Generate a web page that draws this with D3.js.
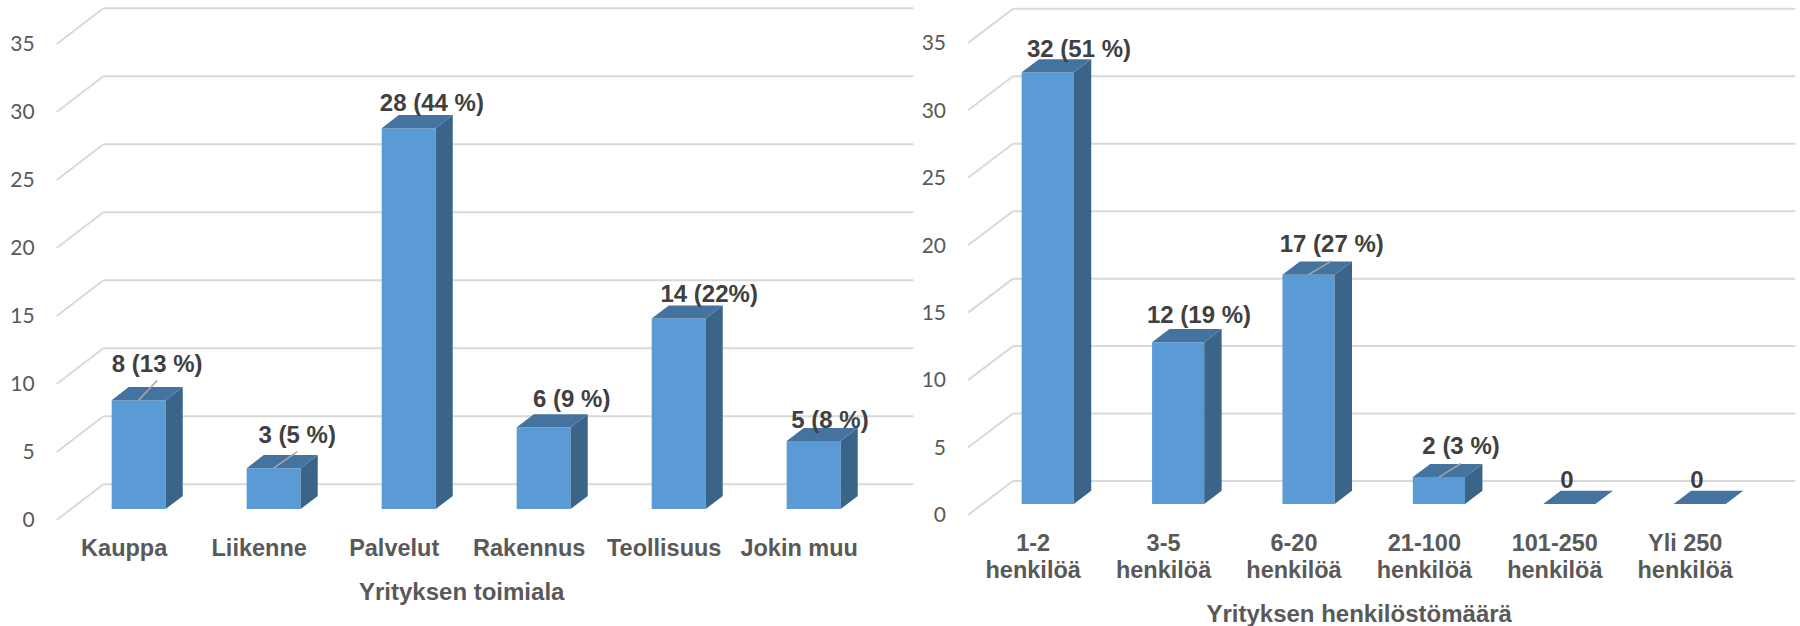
<!DOCTYPE html>
<html>
<head>
<meta charset="utf-8">
<script src="https://cdn.jsdelivr.net/npm/d3@7"></script>
<style>
  html, body { margin: 0; padding: 0; background: #ffffff; }
  svg { display: block; }
</style>
</head>
<body>
<svg id="chart" width="1800" height="626"></svg>
<script>
// ---------------- data ----------------
const yTicks = [0, 5, 10, 15, 20, 25, 30, 35];

const leftCategories = ["Kauppa", "Liikenne", "Palvelut", "Rakennus", "Teollisuus", "Jokin muu"];
const leftValues = [8, 3, 28, 6, 14, 5];
const leftLabels = ["8 (13 %)", "3 (5 %)", "28 (44 %)", "6 (9 %)", "14 (22%)", "5 (8 %)"];
const leftTitle = "Yrityksen toimiala";

const rightCategories = [["1-2", "henkilöä"], ["3-5", "henkilöä"], ["6-20", "henkilöä"],
                         ["21-100", "henkilöä"], ["101-250", "henkilöä"], ["Yli 250", "henkilöä"]];
const rightValues = [32, 12, 17, 2, 0, 0];
const rightLabels = ["32 (51 %)", "12 (19 %)", "17 (27 %)", "2 (3 %)", "0", "0"];
const rightTitle = "Yrityksen henkilöstömäärä";

// ---------------- layout (label placement as moved in the original) ----------------
const leftLabelNudge = [[10, -11.5], [15, -8.5], [14.7, -0.5], [19.5, -3.4], [22, 0.7], [7.8, 4.5]];
const leftLeader = [true, true, false, false, false, false];
const rightLabelNudge = [[22.6, 2.3], [12.2, -2.1], [14.5, -5.7], [13.4, -5.4], [-11, 1], [-11.4, 1]];
const rightLeader = [false, false, true, true, false, false];

const COLORS = { front: "#5b9bd5", top: "#45739f", side: "#3a6488",
                 grid: "#d9d9d9", tick: "#595959", cat: "#595959", label: "#404040", leader: "#a6a6a6" };

const svg = d3.select("#chart");
svg.append("rect").attr("width", 1800).attr("height", 626).attr("fill", "#fff");

function drawChart(cfg) {
  const g = svg.append("g");
  const y = d3.scaleLinear().domain([0, 35]).range([cfg.floorY, cfg.floorY - 35 * cfg.k]);
  const x = d3.scaleBand().domain(cfg.categories.map((c, i) => i))
    .range([cfg.x0, cfg.x1]).paddingInner(0.6).paddingOuter(0.3);
  const [DX, DY] = cfg.depth;
  const b0 = [DX * cfg.d0, DY * cfg.d0];
  const b1 = [DX * cfg.d1, DY * cfg.d1];

  // gridlines: back wall + side wall diagonals
  yTicks.forEach(t => {
    g.append("line")
      .attr("x1", cfg.x0 + DX).attr("y1", y(t) + DY)
      .attr("x2", cfg.x1 + DX).attr("y2", y(t) + DY)
      .attr("stroke", COLORS.grid).attr("stroke-width", 2);
    g.append("line")
      .attr("x1", cfg.x0).attr("y1", y(t))
      .attr("x2", cfg.x0 + DX).attr("y2", y(t) + DY)
      .attr("stroke", COLORS.grid).attr("stroke-width", 2);
  });

  // y tick labels
  g.selectAll("text.tick").data(yTicks).join("text")
    .attr("class", "tick")
    .attr("x", cfg.x0 - 22).attr("y", d => y(d))
    .attr("dy", "0.35em")
    .attr("text-anchor", "end")
    .attr("font-family", "Lato, 'Open Sans', sans-serif")
    .attr("font-size", 21)
    .attr("fill", COLORS.tick)
    .text(d => d);

  // bars
  cfg.values.forEach((v, i) => {
    const xl = x(i) + b0[0], xr = x(i) + x.bandwidth() + b0[0];
    const yb = y(0) + b0[1], yt = y(v) + b0[1];
    const ddx = b1[0] - b0[0], ddy = b1[1] - b0[1];
    const bar = g.append("g");
    if (v > 0) {
      bar.append("polygon")
        .attr("points", [[xl, yb], [xr, yb], [xr, yt], [xl, yt]].join(" "))
        .attr("fill", COLORS.front);
      bar.append("polygon")
        .attr("points", [[xr, yb], [xr + ddx, yb + ddy], [xr + ddx, yt + ddy], [xr, yt]].join(" "))
        .attr("fill", COLORS.side);
    }
    bar.append("polygon")
      .attr("points", [[xl, yt], [xr, yt], [xr + ddx, yt + ddy], [xl + ddx, yt + ddy]].join(" "))
      .attr("fill", COLORS.top);

    // data label
    const cx = (xl + xr) / 2;
    const lx = cx + ddx / 2 + cfg.nudge[i][0];
    const ly = yt + ddy - 4 + cfg.nudge[i][1];
    if (cfg.leader[i]) {
      g.append("line")
        .attr("x1", cx).attr("y1", yt)
        .attr("x2", lx).attr("y2", ly + 9)
        .attr("stroke", COLORS.leader).attr("stroke-width", 1.5);
    }
    g.append("text")
      .attr("x", lx).attr("y", ly)
      .attr("text-anchor", "middle")
      .attr("font-family", "'Liberation Sans', Arial, sans-serif")
      .attr("font-weight", "bold")
      .attr("font-size", 24)
      .attr("fill", COLORS.label)
      .text(cfg.labels[i]);
  });

  // category labels
  cfg.categories.forEach((c, i) => {
    const lines = Array.isArray(c) ? c : [c];
    const t = g.append("text")
      .attr("x", x(i) + x.bandwidth() / 2)
      .attr("y", cfg.catY)
      .attr("text-anchor", "middle")
      .attr("font-family", "'Liberation Sans', Arial, sans-serif")
      .attr("font-weight", "bold")
      .attr("font-size", 23.5)
      .attr("fill", COLORS.cat);
    lines.forEach((ln, j) => {
      t.append("tspan").attr("x", x(i) + x.bandwidth() / 2)
        .attr("dy", j === 0 ? 0 : 27).text(ln);
    });
  });

  // axis title
  g.append("text")
    .attr("x", (cfg.x0 + cfg.x1) / 2)
    .attr("y", cfg.titleY)
    .attr("text-anchor", "middle")
    .attr("font-family", "'Liberation Sans', Arial, sans-serif")
    .attr("font-weight", "bold")
    .attr("font-size", 24)
    .attr("fill", COLORS.cat)
    .text(cfg.title);
}

drawChart({
  categories: leftCategories, values: leftValues, labels: leftLabels, title: leftTitle,
  nudge: leftLabelNudge, leader: leftLeader,
  x0: 56.7, x1: 866.7, floorY: 520, k: 13.6, depth: [46.7, -35.7], d0: 0.31, d1: 0.675,
  catY: 556, titleY: 600
});

drawChart({
  categories: rightCategories, values: rightValues, labels: rightLabels, title: rightTitle,
  nudge: rightLabelNudge, leader: rightLeader,
  x0: 968, x1: 1750.4, floorY: 515, k: 13.49, depth: [45, -34], d0: 0.323, d1: 0.71,
  catY: 550.7, titleY: 622
});
</script>
</body>
</html>
